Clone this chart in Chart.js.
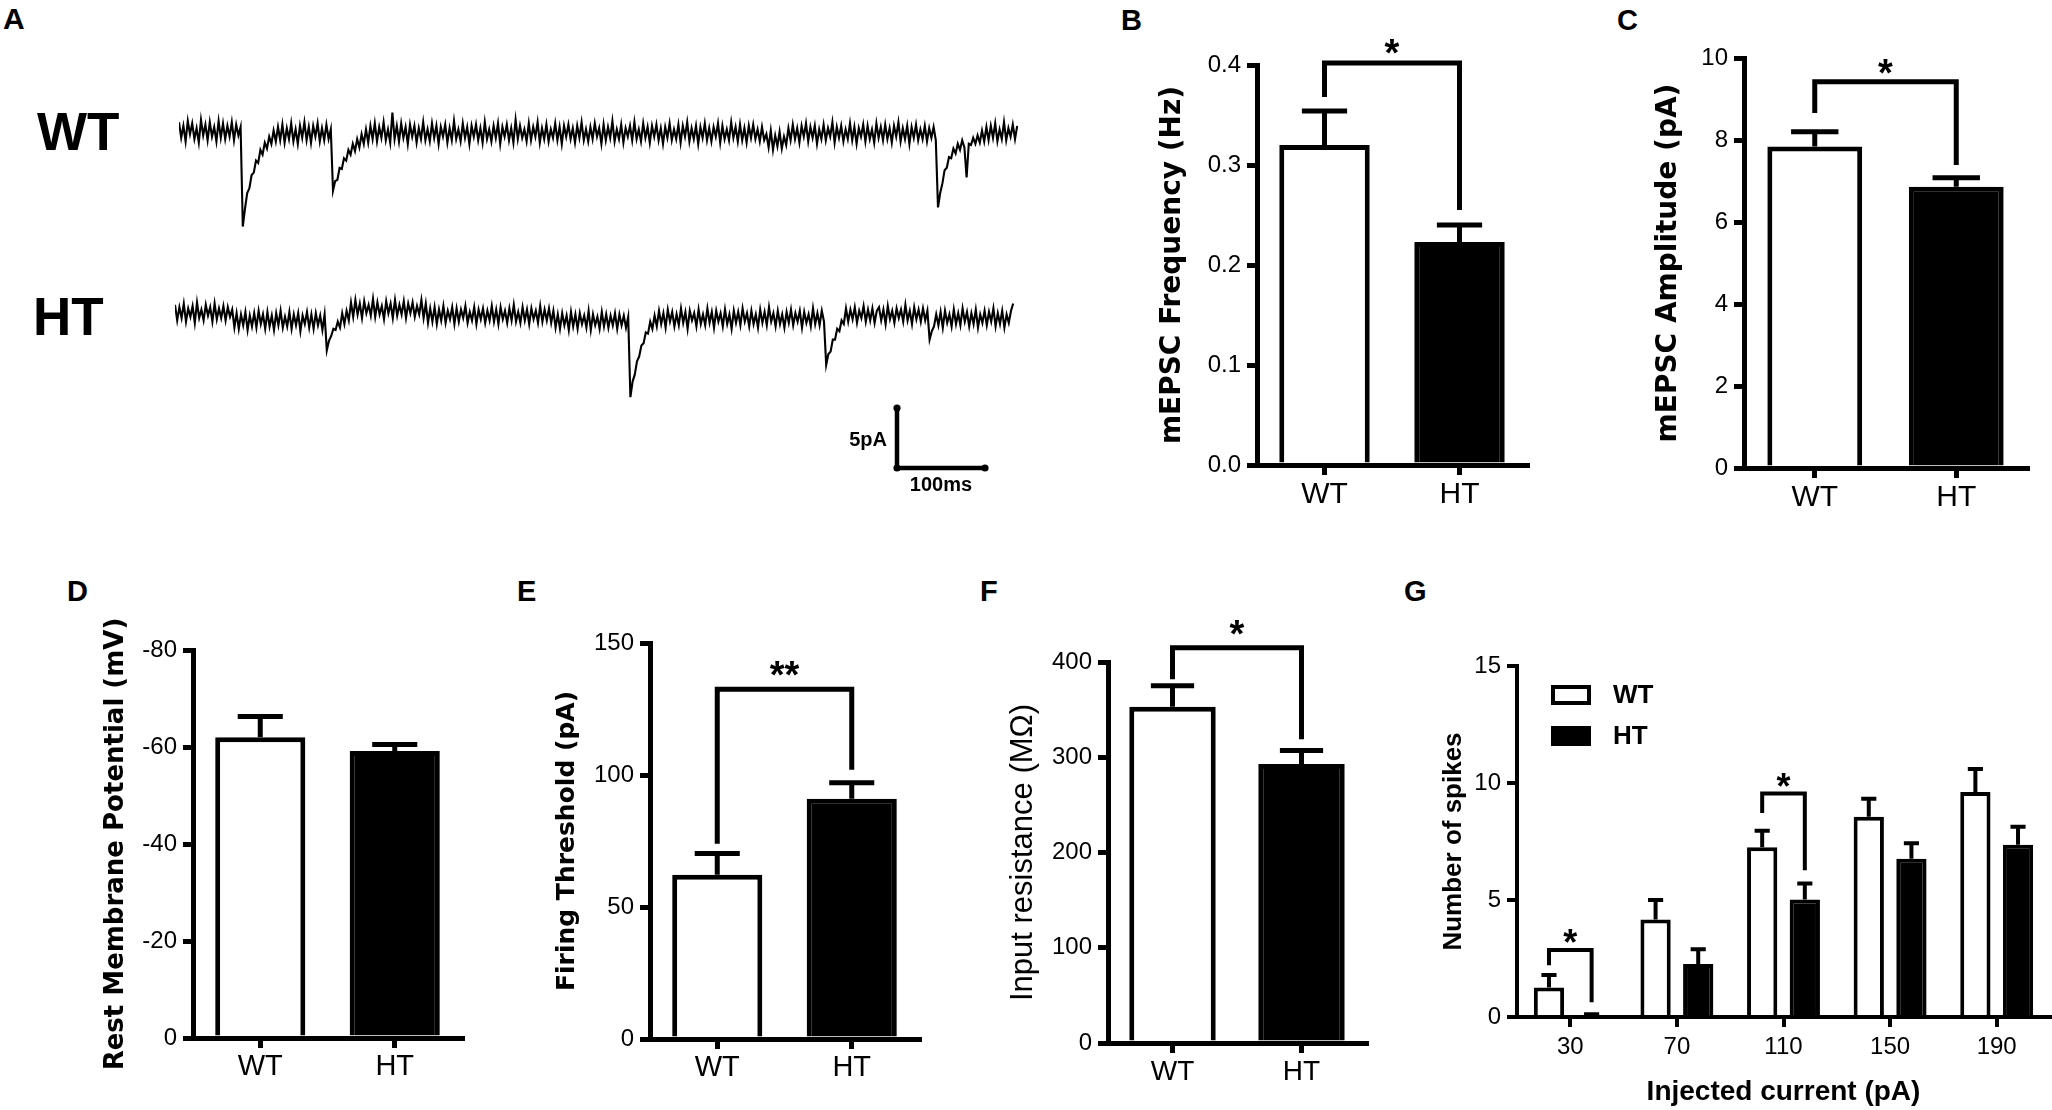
<!DOCTYPE html>
<html><head><meta charset="utf-8">
<script src="https://cdn.jsdelivr.net/npm/chart.js@4.4.1/dist/chart.umd.min.js"></script>
<style>
html,body{margin:0;padding:0;background:#fff;}
body{width:2052px;height:1110px;overflow:hidden;position:relative;font-family:'Liberation Sans',Arial,sans-serif;}
canvas{position:absolute;}
.lbl{position:absolute;font-weight:bold;color:#000;line-height:1;white-space:nowrap;font-family:'Liberation Sans',Arial,sans-serif;}
</style></head><body>
<div class="lbl" style="left:3px;top:4px;font-size:30px">A</div>
<div class="lbl" style="left:1121px;top:6px;font-size:29px">B</div>
<div class="lbl" style="left:1617px;top:6px;font-size:29px">C</div>
<div class="lbl" style="left:67px;top:577px;font-size:29px">D</div>
<div class="lbl" style="left:517px;top:577px;font-size:29px">E</div>
<div class="lbl" style="left:980px;top:577px;font-size:29px">F</div>
<div class="lbl" style="left:1404px;top:577px;font-size:29px">G</div>
<div class="lbl" style="left:37px;top:105px;font-size:53px">WT</div>
<div class="lbl" style="left:33px;top:290px;font-size:53px">HT</div>
<canvas id="cWT"></canvas><canvas id="cHT"></canvas>
<canvas id="cB"></canvas><canvas id="cC"></canvas><canvas id="cD"></canvas>
<canvas id="cE"></canvas><canvas id="cF"></canvas><canvas id="cG"></canvas>
<script>
// ================= DATA =================
const groups = ['WT', 'HT'];

// Panel A: example mEPSC traces (pA), one sample every traceStepMs
const traceStepMs = 2.5;
const wtTrace = [
 0.9,-0.4,0.6,-0.7,1.0,-0.1,0.8,-0.5,0.4,-0.8,1.1,-0.2,0.7,-0.6,0.9,-0.3,0.5,-0.7,1.0,-0.4,
 0.8,-0.5,0.6,-0.3,0.9,-0.6,0.7,-0.2,0.5,-7.8,-6.3,-5.0,-4.6,-3.5,-3.3,-2.3,-2.5,-1.4,-1.8,-0.8,
 -1.3,-0.3,-0.9,0.2,-0.7,0.5,-0.6,0.7,-0.8,0.4,-0.5,0.8,-0.7,0.3,-0.9,0.6,-0.4,0.9,-0.6,0.5,
 -0.8,0.6,-0.3,0.8,-0.7,0.4,-0.6,0.7,-0.5,0.3,-4.8,-4.0,-3.9,-2.9,-3.0,-2.1,-2.3,-1.4,-1.8,-0.9,
 -1.5,-0.5,-1.2,-0.1,-0.9,0.3,-0.8,0.6,-0.5,0.8,-0.7,0.5,-0.4,0.9,-0.6,0.3,-0.8,1.7,-0.5,0.6,
 -0.7,0.8,-0.4,0.5,-0.9,0.7,-0.3,0.6,-0.8,0.4,-0.5,0.9,-0.6,0.3,-0.7,0.8,-0.4,0.6,-0.9,0.5,
 -0.3,0.7,-0.8,0.4,-0.6,1.0,-0.5,0.3,-0.7,0.8,-0.4,0.5,-0.9,0.6,-0.3,0.7,-0.6,0.4,-0.8,0.9,
 -0.5,0.3,-0.7,0.6,-0.4,0.8,-0.9,0.5,-0.3,0.7,-0.6,0.4,-0.8,1.1,-0.5,0.6,-0.4,0.3,-0.7,0.8,
 -0.6,0.5,-0.3,0.9,-0.8,0.4,-0.5,0.7,-0.7,0.3,-0.4,0.8,-0.6,0.5,-0.9,0.6,-0.3,0.7,-0.5,0.4,
 -0.8,0.6,-0.4,0.9,-0.6,0.3,-0.7,0.5,-0.5,0.8,-0.3,0.4,-0.9,0.7,-0.6,0.5,-0.4,1.0,-0.7,0.3,
 -0.5,0.7,-0.8,0.4,-0.3,0.6,-0.6,0.9,-0.5,0.3,-0.7,0.8,-0.4,0.5,-0.8,0.6,-0.3,0.7,-0.6,0.4,
 -0.9,0.5,-0.4,0.8,-0.6,0.3,-0.5,0.7,-0.8,0.6,-0.3,0.9,-0.7,0.4,-0.5,0.6,-0.9,0.5,-0.4,0.8,
 -0.6,0.4,-0.7,0.5,-0.3,0.8,-0.8,0.6,-0.5,0.3,-0.6,0.9,-0.4,0.5,-0.7,0.7,-0.6,0.4,-0.8,0.6,
 -0.4,0.7,-0.5,0.3,-0.7,0.5,-0.6,-0.1,-1.2,0.2,-1.4,-0.2,-1.1,0.1,-1.3,-0.3,-1.0,0.4,-0.6,0.7,
 -0.5,0.4,-0.8,0.6,-0.3,0.8,-0.7,0.5,-0.4,0.6,-0.9,0.3,-0.5,0.7,-0.6,0.4,-0.3,0.9,-0.8,0.5,
 -0.4,0.6,-0.7,0.3,-0.5,0.8,-0.6,0.5,-0.9,0.4,-0.3,0.7,-0.7,0.6,-0.5,0.3,-0.8,0.8,-0.4,0.5,
 -0.6,0.7,-0.5,0.4,-0.8,0.6,-0.3,0.9,-0.7,0.4,-0.5,0.6,-0.9,0.5,-0.4,0.7,-0.6,0.3,-0.5,0.6,
 -0.7,0.4,-0.4,0.5,-0.6,-6.2,-5.0,-4.2,-3.1,-2.9,-2.0,-2.1,-1.3,-1.7,-0.9,-1.4,-0.6,-1.2,-3.7,-0.9,
 -1.0,-0.4,-0.9,-0.2,-0.8,0.2,-0.7,0.5,-0.6,0.6,-0.4,0.8,-0.7,0.3,-0.5,0.9,-0.6,0.4,-0.3,0.7,
 -0.5,0.6];
const htTrace = [
 1.1,-0.2,0.9,0.0,1.2,-0.3,0.8,0.1,1.0,-0.4,1.3,0.0,0.7,-0.2,1.1,0.2,0.9,-0.3,1.2,-0.1,
 0.8,0.0,1.0,-0.2,0.9,0.1,0.7,-0.8,0.4,-0.9,0.3,-0.6,0.5,-1.0,0.2,-0.7,0.4,-0.8,0.6,-0.5,
 0.3,-0.9,0.5,-0.7,0.2,-1.0,0.4,-0.6,0.6,-0.8,0.1,-0.7,0.5,-0.9,0.3,-0.6,0.4,-1.1,0.2,-0.5,
 0.5,-0.8,0.3,-0.9,0.4,-0.6,0.2,-1.0,0.3,-2.7,-1.9,-1.5,-0.9,-1.0,-0.3,-0.8,0.4,-0.5,0.6,-0.2,
 1.3,0.1,1.5,0.3,1.2,0.0,1.4,0.4,1.1,0.2,1.6,0.1,1.3,0.3,1.0,-0.1,1.4,0.4,1.2,0.0,
 1.5,0.2,1.1,0.3,1.4,0.0,1.2,0.4,1.3,0.1,1.0,0.3,1.5,0.0,1.2,-0.4,0.8,-0.3,0.9,-0.5,
 0.7,-0.2,1.0,-0.4,0.6,-0.1,0.9,-0.5,0.8,-0.3,0.7,0.0,1.0,-0.4,0.5,-0.2,0.9,-0.5,0.7,-0.1,
 0.8,-0.4,0.6,-0.2,1.0,-0.3,0.7,-0.5,0.9,-0.1,0.6,-0.4,0.8,-0.2,1.1,-0.3,0.5,-0.4,0.9,-0.2,
 0.7,-0.5,0.8,-0.1,0.6,-0.4,1.0,-0.3,0.7,-0.2,0.8,-0.4,0.6,-0.8,0.3,-0.9,0.4,-0.6,0.2,-1.0,
 0.5,-0.7,0.3,-0.9,0.4,-0.5,0.2,-0.8,0.6,-1.0,0.3,-0.6,0.1,-0.9,0.5,-0.7,0.3,-0.8,0.2,-0.6,
 0.4,-0.9,0.3,-0.6,0.2,-0.8,0.1,-6.6,-5.3,-4.7,-3.6,-3.2,-2.3,-2.1,-1.2,-1.3,-0.3,-0.9,0.2,-0.7,
 0.6,-0.5,0.4,-0.8,0.7,-0.3,0.5,-0.7,0.3,-0.6,0.8,-0.4,0.5,-0.9,0.6,-0.2,0.4,-0.7,0.7,-0.5,
 0.3,-0.6,0.8,-0.4,0.5,-0.8,0.6,-0.3,0.4,-0.7,0.7,-0.5,0.3,-0.9,0.6,-0.4,0.5,-0.6,0.8,-0.3,
 0.4,-0.7,0.6,-0.5,0.3,-0.8,0.7,-0.4,0.5,-0.6,0.9,-0.3,0.4,-0.7,0.6,-0.5,0.3,-0.8,0.5,-0.4,
 0.7,-0.6,0.4,-0.3,0.6,-0.8,0.5,-0.4,0.3,-0.7,0.8,-0.5,0.4,-0.6,0.6,-0.3,-3.9,-3.0,-2.8,-1.8,
 -1.8,-0.9,-1.1,-0.2,-0.5,0.8,-0.3,0.7,-0.1,0.9,-0.4,0.6,0.0,1.0,-0.3,0.7,-0.2,0.8,-0.4,0.6,
 0.9,-0.2,0.7,-0.5,1.0,-0.1,0.6,-0.4,0.8,0.0,0.7,-0.3,1.1,-0.2,0.6,-0.5,0.9,-0.1,0.7,-0.3,
 0.8,-0.2,0.6,-1.8,-1.1,-0.7,0.3,-0.6,0.5,-0.8,0.6,-0.4,0.3,-0.7,0.7,-0.5,0.4,-0.6,0.8,-0.3,
 0.5,-0.7,0.4,-0.5,0.7,-0.8,0.3,-0.4,0.6,-0.6,0.5,-0.3,0.8,-0.7,0.4,-0.5,0.6,-0.8,0.3,-0.4,
 0.6,1.2];
const scaleBarPA = 5;
const scaleBarMs = 100;

// Panel B: mEPSC frequency (Hz)
const freqMean = [0.320, 0.223];
const freqSem  = [0.034, 0.017];
const freqSig  = [0.368, 0.402, 0.255];   // left leg end, bracket, right leg end
// Panel C: mEPSC amplitude (pA)
const ampMean = [7.84, 6.86];
const ampSem  = [0.36, 0.22];
const ampSig  = [8.66, 9.42, 7.39];
// Panel D: resting membrane potential (mV)
const rmpMean = [-62.0, -59.2];
const rmpSem  = [4.3, 1.3];
// Panel E: firing threshold (pA)
const thrMean = [62.2, 91.0];
const thrSem  = [8.1, 6.1];
const thrSig  = [74, 132.5, 102];
// Panel F: input resistance (MOhm)
const rinMean = [353, 293];
const rinSem  = [22, 14];
const rinSig  = [382, 415, 319];
// Panel G: number of spikes vs injected current
const currents    = ['30', '70', '110', '150', '190'];
const spikesWT    = [1.26, 4.17, 7.25, 8.56, 9.62];
const spikesWTSem = [0.54, 0.83, 0.71, 0.77, 0.98];
const spikesHT    = [0.08, 2.26, 5.02, 6.76, 7.36];
const spikesHTSem = [0.04, 0.63, 0.68, 0.67, 0.77];
const spikesSig30  = [2.21, 2.86, 0.63];
const spikesSig110 = [8.72, 9.55, 6.27];

// ================= RENDERING =================
Chart.defaults.color = '#000';
Chart.defaults.font.family = "'Liberation Sans', Arial, sans-serif";
const SANS = "'Liberation Sans', Arial, sans-serif";

const annot = {
  id: 'annot',
  afterDatasetsDraw(chart, args, o) {
    const ctx = chart.ctx, y = chart.scales.y;
    ctx.save();
    ctx.strokeStyle = '#000'; ctx.fillStyle = '#000';
    ctx.lineWidth = o.lineWidth; ctx.lineCap = 'butt'; ctx.lineJoin = 'miter';
    (o.sems || []).forEach((sem, di) => {
      const meta = chart.getDatasetMeta(di);
      const data = chart.data.datasets[di].data;
      meta.data.forEach((bar, i) => {
        const m = data[i];
        const tip = m + (m < 0 ? -1 : 1) * sem[i];
        const yb = y.getPixelForValue(m), yt = y.getPixelForValue(tip);
        const hw = bar.width * o.capRatio / 2;
        ctx.beginPath();
        ctx.moveTo(bar.x, yb); ctx.lineTo(bar.x, yt);
        ctx.moveTo(bar.x - hw, yt); ctx.lineTo(bar.x + hw, yt);
        ctx.stroke();
      });
    });
    (o.brackets || []).forEach(b => {
      const xl = chart.getDatasetMeta(b.left[0]).data[b.left[1]].x;
      const xr = chart.getDatasetMeta(b.right[0]).data[b.right[1]].x;
      const yt = y.getPixelForValue(b.values[1]);
      ctx.beginPath();
      ctx.moveTo(xl, y.getPixelForValue(b.values[0]));
      ctx.lineTo(xl, yt); ctx.lineTo(xr, yt);
      ctx.lineTo(xr, y.getPixelForValue(b.values[2]));
      ctx.stroke();
      ctx.font = 'bold ' + o.starSize + 'px ' + SANS;
      ctx.textAlign = 'center'; ctx.textBaseline = 'alphabetic';
      ctx.fillText(b.label, (xl + xr) / 2, yt - o.starGap + 0.56 * o.starSize);
    });
    if (o.legend) {
      const L = o.legend, ca = chart.chartArea;
      chart.data.datasets.forEach((ds, i) => {
        const bx = ca.left + L.dx, by = ca.top + L.dy + i * L.row;
        ctx.fillStyle = '#000';
        ctx.fillRect(bx, by, L.w, L.h);
        if (ds.backgroundColor !== '#000') {
          ctx.fillStyle = ds.backgroundColor;
          ctx.fillRect(bx + L.bw, by + L.bw, L.w - 2 * L.bw, L.h - 2 * L.bw);
        }
        ctx.fillStyle = '#000';
        ctx.font = 'bold ' + L.size + 'px ' + SANS;
        ctx.textAlign = 'left'; ctx.textBaseline = 'middle';
        ctx.fillText(ds.label, bx + L.w + L.gap, by + L.h / 2 + 1);
      });
    }
    ctx.restore();
  }
};

function axisCommon(lw, tickLen) {
  return {
    grid: { display: true, drawOnChartArea: false, drawTicks: true, tickLength: tickLen,
            tickWidth: lw, tickColor: '#000', lineWidth: lw, color: '#000', offset: false },
    border: { display: true, width: lw, color: '#000' }
  };
}

function barPanel(id, g, cfg) {
  const cv = document.getElementById(id);
  const cLeft = Math.round(g.titleX - 0.6 * g.titleSize);
  const yW = g.left - cLeft;
  const padT = g.top - g.canvasTop;
  const W = g.right + g.padR - cLeft;
  const H = g.bottom + g.xH - g.canvasTop;
  cv.style.left = cLeft + 'px'; cv.style.top = g.canvasTop + 'px';
  cv.width = W; cv.height = H;
  const ax = axisCommon(g.lw, 10);
  const ay = axisCommon(g.lw, 10);
  return new Chart(cv, {
    type: 'bar',
    data: { labels: cfg.labels, datasets: cfg.datasets },
    options: {
      responsive: false, animation: false, events: [],
      layout: { padding: { left: 0, top: padT, right: g.padR, bottom: 0 } },
      plugins: { legend: { display: false }, tooltip: { enabled: false }, annot: cfg.annot },
      scales: {
        x: Object.assign({}, ax, {
          offset: true,
          ticks: { font: { size: g.xFont, weight: g.xWeight || 'normal' }, color: '#000', padding: g.xPad, autoSkip: false, maxRotation: 0 },
          title: cfg.xTitle ? { display: true, text: cfg.xTitle, font: { size: g.xTitleSize, weight: 'bold', lineHeight: 1.2 }, padding: 0, color: '#000' } : { display: false },
          afterFit: s => { s.height = g.xH; }
        }),
        y: Object.assign({}, ay, {
          min: cfg.min, max: cfg.max, reverse: !!cfg.reverse,
          ticks: { stepSize: cfg.step, font: { size: g.yFont }, color: '#000', padding: 6, callback: cfg.fmt },
          title: { display: true, text: cfg.yTitle, color: '#000', padding: 0,
                   font: { family: g.titleFamily, size: g.titleSize, weight: g.titleWeight, lineHeight: 1.2 } },
          afterFit: s => { s.width = yW; }
        })
      }
    },
    plugins: [annot]
  });
}

const twoBars = (vals) => [{ data: vals, backgroundColor: ['#fff', '#000'], borderColor: '#000',
  borderWidth: 5, borderSkipped: 'start', barPercentage: 0.67, categoryPercentage: 1 }];
const DJ = "'DejaVu Sans', sans-serif";
const fmt1 = v => v.toFixed(1);
const fmt0 = v => (v === 0 ? '0' : String(v));

// B
barPanel('cB', { titleX: 1173, titleSize: 28, titleFamily: DJ, titleWeight: 'bold', left: 1257, top: 65, right: 1527, bottom: 465,
  canvasTop: 0, xH: 55, padR: 6, lw: 5, xFont: 30, yFont: 24, xPad: 2 },
  { labels: groups, datasets: twoBars(freqMean), min: 0, max: 0.4, step: 0.1, fmt: fmt1, yTitle: 'mEPSC Frequency (Hz)',
    annot: { lineWidth: 5, capRatio: 0.5, sems: [freqSem], starSize: 38, starGap: 18,
      brackets: [{ left: [0, 0], right: [0, 1], values: freqSig, label: '*' }] } });
// C
barPanel('cC', { titleX: 1669, titleSize: 28, titleFamily: DJ, titleWeight: 'bold', left: 1744, top: 58, right: 2027, bottom: 468,
  canvasTop: 0, xH: 55, padR: 6, lw: 5, xFont: 30, yFont: 24, xPad: 2 },
  { labels: groups, datasets: twoBars(ampMean), min: 0, max: 10, step: 2, fmt: fmt0, yTitle: 'mEPSC Amplitude (pA)',
    annot: { lineWidth: 5, capRatio: 0.5, sems: [ampSem], starSize: 38, starGap: 17,
      brackets: [{ left: [0, 0], right: [0, 1], values: ampSig, label: '*' }] } });
// D
barPanel('cD', { titleX: 117, titleSize: 26, titleFamily: DJ, titleWeight: 'bold', left: 193, top: 650, right: 462, bottom: 1038,
  canvasTop: 560, xH: 60, padR: 6, lw: 5, xFont: 29, yFont: 24, xPad: 2 },
  { labels: groups, datasets: twoBars(rmpMean), min: -80, max: 0, reverse: true, step: 20, fmt: fmt0, yTitle: 'Rest Membrane Potential (mV)',
    annot: { lineWidth: 5, capRatio: 0.5, sems: [rmpSem], starSize: 38, starGap: 18, brackets: [] } });
// E
barPanel('cE', { titleX: 567, titleSize: 25, titleFamily: DJ, titleWeight: 'bold', left: 650, top: 643, right: 919, bottom: 1039,
  canvasTop: 560, xH: 60, padR: 6, lw: 5, xFont: 29, yFont: 24, xPad: 2 },
  { labels: groups, datasets: twoBars(thrMean), min: 0, max: 150, step: 50, fmt: fmt0, yTitle: 'Firing Threshold (pA)',
    annot: { lineWidth: 5, capRatio: 0.5, sems: [thrSem], starSize: 38, starGap: 22,
      brackets: [{ left: [0, 0], right: [0, 1], values: thrSig, label: '**' }] } });
// F
barPanel('cF', { titleX: 1024, titleSize: 31, titleFamily: SANS, titleWeight: 'normal', left: 1108, top: 662, right: 1366, bottom: 1043,
  canvasTop: 560, xH: 60, padR: 6, lw: 5, xFont: 28, yFont: 24, xPad: 2 },
  { labels: groups, datasets: twoBars(rinMean), min: 0, max: 400, step: 100, fmt: fmt0, yTitle: 'Input resistance (M\u03A9)',
    annot: { lineWidth: 5, capRatio: 0.5, sems: [rinSem], starSize: 38, starGap: 22,
      brackets: [{ left: [0, 0], right: [0, 1], values: rinSig, label: '*' }] } });
// G
barPanel('cG', { titleX: 1454, titleSize: 26, titleFamily: SANS, titleWeight: 'bold', left: 1517, top: 666, right: 2050, bottom: 1017,
  canvasTop: 560, xH: 92, padR: 2, lw: 4, xFont: 24, yFont: 24, xPad: 6, xTitleSize: 28 },
  { labels: currents,
    datasets: [
      { label: 'WT', data: spikesWT, backgroundColor: '#fff', borderColor: '#000', borderWidth: 4, borderSkipped: 'start', barPercentage: 0.71, categoryPercentage: 0.8 },
      { label: 'HT', data: spikesHT, backgroundColor: '#000', borderColor: '#000', borderWidth: 4, borderSkipped: 'start', barPercentage: 0.71, categoryPercentage: 0.8 }
    ],
    min: 0, max: 15, step: 5, fmt: fmt0, yTitle: 'Number of spikes', xTitle: 'Injected current (pA)',
    annot: { lineWidth: 4, capRatio: 0.5, sems: [spikesWTSem, spikesHTSem], starSize: 36, starGap: 15,
      brackets: [{ left: [0, 0], right: [1, 0], values: spikesSig30, label: '*' },
                 { left: [0, 2], right: [1, 2], values: spikesSig110, label: '*' }],
      legend: { dx: 34, dy: 19, row: 41, w: 40, h: 20, bw: 4, gap: 22, size: 26 } } });

// Panel A traces
const PX_PER_MS = 0.88, PX_PER_PA = 12;
const toPts = arr => arr.map((v, i) => ({ x: i * traceStepMs, y: v }));

const scaleBar = {
  id: 'scaleBar',
  afterDraw(chart, args, o) {
    if (!o || !o.show) return;
    const ctx = chart.ctx, sx = chart.scales.x, sy = chart.scales.y, ca = chart.chartArea;
    const lx = sx.getPixelForValue(scaleBarMs) - sx.getPixelForValue(0);
    const ly = sy.getPixelForValue(0) - sy.getPixelForValue(scaleBarPA);
    const ax = ca.left + o.ax, ay = ca.top + o.ay;
    ctx.save();
    ctx.strokeStyle = '#000'; ctx.fillStyle = '#000'; ctx.lineWidth = 4.5; ctx.lineCap = 'round';
    ctx.beginPath(); ctx.moveTo(ax, ay - ly); ctx.lineTo(ax, ay); ctx.lineTo(ax + lx, ay); ctx.stroke();
    [[ax, ay - ly], [ax, ay], [ax + lx, ay]].forEach(p => { ctx.beginPath(); ctx.arc(p[0], p[1], 3.6, 0, Math.PI * 2); ctx.fill(); });
    ctx.font = 'bold 20px ' + SANS;
    ctx.textAlign = 'right'; ctx.textBaseline = 'middle';
    ctx.fillText(scaleBarPA + 'pA', ax - 10, ay - ly / 2 + 2);
    ctx.textAlign = 'center';
    ctx.fillText(scaleBarMs + 'ms', ax + lx / 2, ay + 17);
    ctx.restore();
  }
};

function tracePanel(id, arr, g) {
  const cv = document.getElementById(id);
  cv.style.left = g.left + 'px'; cv.style.top = g.top + 'px';
  cv.width = g.width; cv.height = g.height + g.padB;
  const yMax = g.baseOffset / PX_PER_PA;
  return new Chart(cv, {
    type: 'line',
    data: { datasets: [{ data: toPts(arr), borderColor: '#000', borderWidth: 2.1, pointRadius: 0, tension: 0 }] },
    options: {
      responsive: false, animation: false, events: [],
      layout: { padding: { left: 0, right: 0, top: 0, bottom: g.padB } },
      plugins: { legend: { display: false }, tooltip: { enabled: false }, scaleBar: g.bar },
      scales: {
        x: { type: 'linear', display: false, min: 0, max: g.width / PX_PER_MS },
        y: { display: false, max: yMax, min: yMax - g.height / PX_PER_PA }
      }
    },
    plugins: [scaleBar]
  });
}
tracePanel('cWT', wtTrace, { left: 179, top: 95, width: 839, height: 150, padB: 0, baseOffset: 38, bar: { show: false } });
tracePanel('cHT', htTrace, { left: 175, top: 280, width: 839, height: 200, padB: 30, baseOffset: 38, bar: { show: true, ax: 722, ay: 188 } });
</script>
</body></html>
